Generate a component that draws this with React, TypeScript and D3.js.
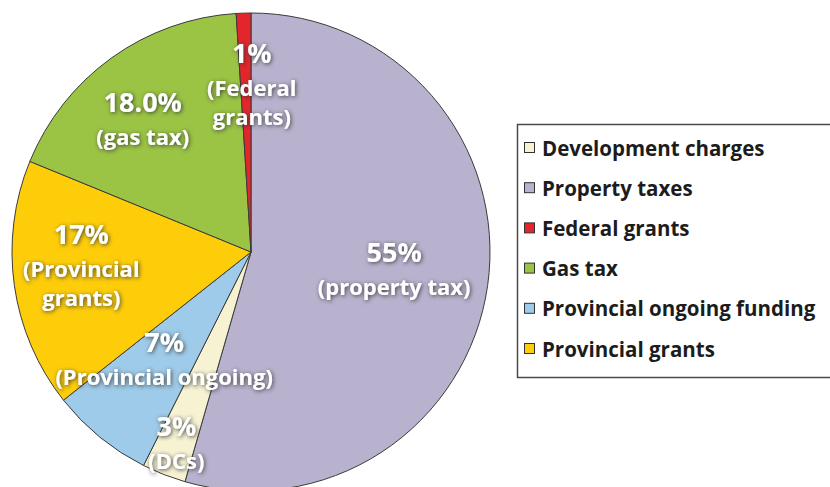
import React, { useRef, useEffect } from 'react';
import * as d3 from 'd3';

// legend order
const categories = [
  'Development charges',
  'Property taxes',
  'Federal grants',
  'Gas tax',
  'Provincial ongoing funding',
  'Provincial grants',
];
const shares = [3, 55, 1, 18, 7, 17];
const pctLabels = ['3%', '55%', '1%', '18.0%', '7%', '17%'];
const noteLabels = [
  ['(DCs)'],
  ['(property tax)'],
  ['(Federal', 'grants)'],
  ['(gas tax)'],
  ['(Provincial ongoing)'],
  ['(Provincial', 'grants)'],
];
// clockwise from 12 o'clock
const sliceOrder = [1, 0, 4, 5, 3, 2];

const colors = ['#F6F2D2', '#B9B2CE', '#E2262C', '#9BC445', '#9ECBE9', '#FECD0A'];
const labelPlace = [
  { k: 0.857, dx: 0, dy: 0 },
  { k: 0.605, dx: 0, dy: -4 },
  { k: 0.7, dx: 6, dy: 0 },
  { k: 0.72, dx: -8, dy: 6 },
  { k: 0.575, dx: 0, dy: 0 },
  { k: 0.717, dx: 0, dy: -10 },
];

const width = 830;
const height = 487;

const App = () => {
  const svgRef = useRef<SVGSVGElement>(null);

  useEffect(() => {
    const svg = d3.select(svgRef.current);
    svg.selectAll('*').remove();

    const cx = 251;
    const cy = 252;
    const radius = 239;
    const font = "'Open Sans', 'DejaVu Sans', sans-serif";

    const defs = svg.append('defs');
    const filter = defs
      .append('filter')
      .attr('id', 'glow')
      .attr('x', '-20%')
      .attr('y', '-40%')
      .attr('width', '140%')
      .attr('height', '180%');
    filter
      .append('feDropShadow')
      .attr('dx', 1)
      .attr('dy', 1)
      .attr('stdDeviation', 2.2)
      .attr('flood-color', '#333333')
      .attr('flood-opacity', 0.9);

    const pie = d3
      .pie<number>()
      .sort(null)
      .value(i => shares[i]);
    const arcs = pie(sliceOrder);

    const arc = d3.arc<d3.PieArcDatum<number>>().innerRadius(0).outerRadius(radius);

    const g = svg.append('g').attr('transform', `translate(${cx},${cy})`);

    g.selectAll('path.slice')
      .data(arcs)
      .join('path')
      .attr('class', 'slice')
      .attr('d', arc)
      .attr('fill', d => colors[d.data])
      .attr('stroke', '#3b3b3b')
      .attr('stroke-width', 1);

    // labels
    const lineGap = 31;
    arcs.forEach(d => {
      const i = d.data;
      const p = labelPlace[i];
      const mid = (d.startAngle + d.endAngle) / 2;
      const ax = Math.sin(mid) * radius * p.k + p.dx;
      const ay = -Math.cos(mid) * radius * p.k + p.dy;
      const lines = [pctLabels[i], ...noteLabels[i]];
      const n = lines.length;
      const t = g
        .append('text')
        .attr('text-anchor', 'middle')
        .attr('font-family', font)
        .attr('font-weight', 700)
        .attr('fill', '#ffffff')
        .attr('filter', 'url(#glow)');
      lines.forEach((line, j) => {
        const gap = j === 1 ? 2 : 0;
        t.append('tspan')
          .attr('x', ax)
          .attr('y', ay + (j - (n - 1) / 2) * lineGap + 9 + gap)
          .attr('font-size', j === 0 ? 27 : 22)
          .text(line);
      });
    });

    // legend
    const legend = svg.append('g');
    legend
      .append('rect')
      .attr('x', 517.5)
      .attr('y', 124.5)
      .attr('width', 330)
      .attr('height', 253)
      .attr('fill', '#ffffff')
      .attr('stroke', '#4a4a4a')
      .attr('stroke-width', 1.5);

    const rowY = d3.scalePoint<string>().domain(categories).range([148, 349]);

    const rows = legend
      .selectAll('g.row')
      .data(categories)
      .join('g')
      .attr('class', 'row')
      .attr('transform', d => `translate(0,${rowY(d)})`);

    rows
      .append('rect')
      .attr('x', 524.5)
      .attr('y', -5.5)
      .attr('width', 10)
      .attr('height', 10)
      .attr('fill', (d, i) => colors[i])
      .attr('stroke', '#333')
      .attr('stroke-width', 1);

    rows
      .append('text')
      .attr('x', 542)
      .attr('y', 7.5)
      .attr('font-family', font)
      .attr('font-weight', 700)
      .attr('font-size', 20.5)
      .attr('fill', '#1c1c1c')
      .text(d => d);
  }, []);

  return (
    <div style={{ position: 'absolute', left: 0, top: 0 }}>
      <svg ref={svgRef} width={width} height={height} style={{ display: 'block' }} />
    </div>
  );
};

export default App;
